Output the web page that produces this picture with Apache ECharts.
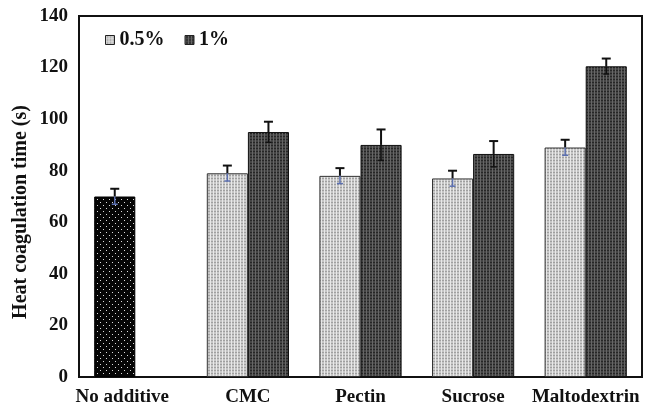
<!DOCTYPE html>
<html><head><meta charset="utf-8">
<script src="https://cdn.jsdelivr.net/npm/echarts@6/dist/echarts.min.js"></script>
<style>html,body{margin:0;padding:0;background:#fff}#c{width:658px;height:407px}</style>
</head><body><div id="c"></div>
<script>
const categories = ['No additive', 'CMC', 'Pectin', 'Sucrose', 'Maltodextrin'];
const yTicks = [0, 20, 40, 60, 80, 100, 120, 140];
const values05 = [70, 79, 78, 77, 89];
const errors05 = [3, 3, 3, 3, 3];
const values1 = [null, 95, 90, 86.5, 120.5];
const errors1 = [null, 4, 6, 5, 3];

function pattern(size, bg, dots) {
  const c = document.createElement('canvas');
  c.width = size; c.height = size;
  const g = c.getContext('2d');
  g.fillStyle = bg; g.fillRect(0, 0, size, size);
  dots.forEach(d => { g.fillStyle = d[2]; g.fillRect(d[0], d[1], d[3] || 1, d[4] || 1); });
  return c;
}
const pLight = pattern(3, '#c6c6c6', [[0,0,'#e8e8e8',1,3],[1,1,'#a0a0a0',2,1]]);
const pDark = pattern(3, '#444444', [[0,0,'#666666',1,3],[1,1,'#262626',2,1]]);
const pDots = pattern(6, '#050505', [[1,1,'#dcdcdc'],[4,4,'#dcdcdc']]);

const FONT = 'Liberation Serif';
const chart = echarts.init(document.getElementById('c'));
const GAP = 0.27;

function errSeries(vals, errs, side, lowColor) {
  return {
    type: 'custom', z: 10, silent: true,
    data: vals.map((v, i) => [i, v, errs[i]]),
    renderItem: function (params, api) {
      const v = api.value(1), e = api.value(2);
      if (v == null || isNaN(v)) return null;
      const band = api.size([1, 0])[0];
      const off = side * band * (1 - GAP) / 4;
      const p = api.coord([api.value(0), v]);
      const hi = api.coord([api.value(0), v + e]);
      const lo = api.coord([api.value(0), v - e]);
      const x = p[0] + off, cw = 4.5;
      return { type: 'group', children: [
        { type: 'line', shape: { x1: x, y1: p[1], x2: x, y2: hi[1] }, style: { stroke: '#111', lineWidth: 2 } },
        { type: 'line', shape: { x1: x - cw, y1: hi[1], x2: x + cw, y2: hi[1] }, style: { stroke: '#111', lineWidth: 2 } },
        { type: 'line', shape: { x1: x, y1: p[1], x2: x, y2: lo[1] }, style: { stroke: lowColor, lineWidth: 1.5 } },
        { type: 'line', shape: { x1: x - 3, y1: lo[1], x2: x + 3, y2: lo[1] }, style: { stroke: lowColor, lineWidth: 1.5 } }
      ]};
    }
  };
}

chart.setOption({
  animation: false,
  textStyle: { fontFamily: FONT },
  grid: { left: 79, right: 16, top: 16, bottom: 30, show: true, borderColor: '#111', borderWidth: 2, backgroundColor: 'transparent' },
  legend: {
    left: 100, top: 25, icon: 'rect', itemWidth: 9, itemHeight: 9, itemGap: 20,
    textStyle: { fontFamily: FONT, fontWeight: 'bold', fontSize: 20, color: '#111' },
    data: [
      { name: '0.5%', itemStyle: { color: { image: pLight, repeat: 'repeat' }, borderColor: '#222', borderWidth: 1 } },
      { name: '1%', itemStyle: { color: { image: pDark, repeat: 'repeat' }, borderColor: '#222', borderWidth: 1 } }
    ]
  },
  xAxis: {
    type: 'category',
    data: categories.map((c, i) => i === 0 ? { value: c, textStyle: { padding: [0, 26, 0, 0] } } : c),
    axisLine: { lineStyle: { color: '#111', width: 2 } },
    axisTick: { show: false },
    axisLabel: { interval: 0, margin: 11, fontFamily: FONT, fontWeight: 'bold', fontSize: 19, color: '#111' }
  },
  yAxis: {
    type: 'value', min: yTicks[0], max: yTicks[yTicks.length - 1], interval: 20,
    axisLine: { show: true, lineStyle: { color: '#111', width: 2 } },
    axisTick: { show: false },
    splitLine: { show: false },
    axisLabel: { margin: 11, fontFamily: FONT, fontWeight: 'bold', fontSize: 19, color: '#111' }
  },
  graphic: [{
    type: 'text', x: 21, y: 212, rotation: Math.PI / 2,
    style: { text: 'Heat coagulation time (s)', font: 'bold 20px "Liberation Serif"', fill: '#111', align: 'center', verticalAlign: 'middle' }
  }],
  series: [
    {
      name: '0.5%', type: 'bar', barGap: '0%', barCategoryGap: (GAP * 100) + '%',
      itemStyle: { color: { image: pLight, repeat: 'repeat' }, borderColor: '#333', borderWidth: 1 },
      data: values05.map((v, i) => i === 0 ? { value: v, itemStyle: { color: { image: pDots, repeat: 'repeat' }, borderColor: '#000' } } : v)
    },
    {
      name: '1%', type: 'bar',
      itemStyle: { color: { image: pDark, repeat: 'repeat' }, borderColor: '#111', borderWidth: 1 },
      data: values1
    },
    errSeries(values05, errors05, -1, '#5b6fb0'),
    errSeries(values1, errors1, 1, '#111')
  ]
});
</script></body></html>
